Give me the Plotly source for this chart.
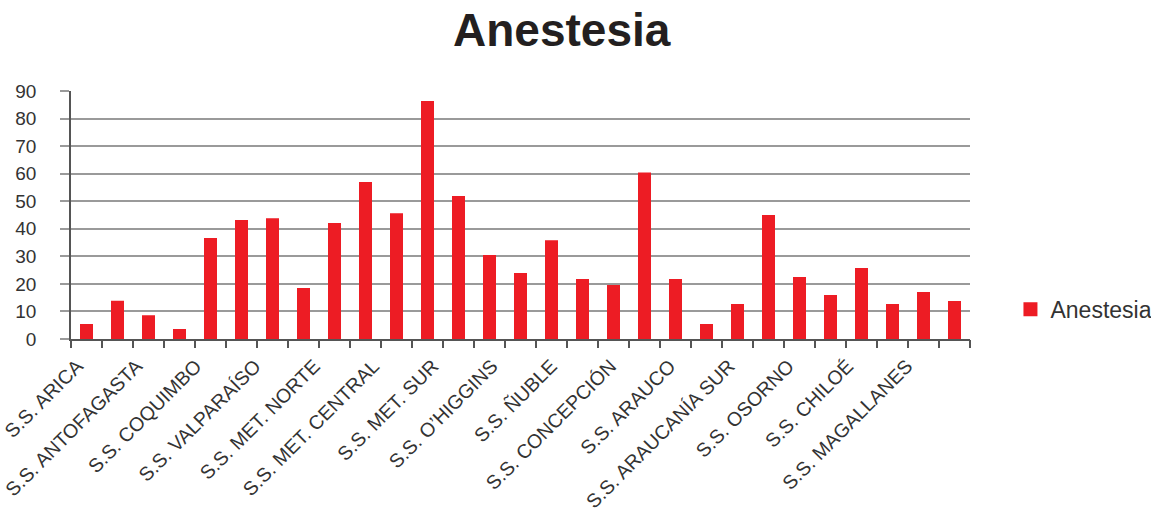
import plotly.graph_objects as go

# Servicios de Salud, in the order they are charted
categories = [
    "S.S. ARICA", "S.S. IQUIQUE", "S.S. ANTOFAGASTA", "S.S. ATACAMA",
    "S.S. COQUIMBO", "S.S. VIÑA DEL MAR QUILLOTA", "S.S. VALPARAÍSO",
    "S.S. ACONCAGUA", "S.S. MET. NORTE", "S.S. MET. OCCIDENTE",
    "S.S. MET. CENTRAL", "S.S. MET. ORIENTE", "S.S. MET. SUR",
    "S.S. MET. SUR ORIENTE", "S.S. O’HIGGINS", "S.S. MAULE", "S.S. ÑUBLE",
    "S.S. BIOBÍO", "S.S. CONCEPCIÓN", "S.S. TALCAHUANO", "S.S. ARAUCO",
    "S.S. ARAUCANÍA NORTE", "S.S. ARAUCANÍA SUR", "S.S. VALDIVIA",
    "S.S. OSORNO", "S.S. RELONCAVÍ", "S.S. CHILOÉ", "S.S. AYSÉN",
    "S.S. MAGALLANES",
]

anestesia = [
    5.1, 13.5, 8.3, 3.3, 36.3, 42.8, 43.5, 18.1, 41.7, 56.6,
    45.3, 86.0, 51.5, 30.1, 23.6, 35.5, 21.4, 19.2, 60.1, 21.4,
    5.1, 12.3, 44.6, 22.1, 15.6, 25.4, 12.3, 16.7, 13.4,
]

y_ticks = [0, 10, 20, 30, 40, 50, 60, 70, 80, 90]

RED = "#ED1C24"
FONT = "Liberation Sans, Arial, Helvetica, sans-serif"

n = len(categories)
# only every second service gets a printed label
label_idx = list(range(0, n, 2))
label_txt = [categories[i] for i in label_idx]
boundaries = [i - 0.5 for i in range(n + 1)]

fig = go.Figure()
fig.add_trace(go.Bar(
    x=categories, y=anestesia, name="Anestesia",
    marker=dict(color=RED, line=dict(width=2, color=RED)),
    showlegend=True,
))
# empty helper traces so the overlaid tick/label axes get rendered
fig.add_trace(go.Scatter(
    x=boundaries, y=[None] * len(boundaries), xaxis="x2", mode="markers",
    showlegend=False, hoverinfo="skip", marker=dict(opacity=0),
))
fig.add_trace(go.Scatter(
    x=label_idx, y=[None] * len(label_idx), xaxis="x3", mode="markers",
    showlegend=False, hoverinfo="skip", marker=dict(opacity=0),
))

fig.update_layout(
    width=1151, height=515,
    paper_bgcolor="white", plot_bgcolor="white",
    margin=dict(l=71, r=181, t=91, b=176, autoexpand=False),
    bargap=0.645,
    title=dict(
        text="<b>Anestesia</b>", x=0.488, xanchor="center",
        y=0.91, yanchor="bottom",
        font=dict(family=FONT, size=46, color="#231F20"),
    ),
    font=dict(family=FONT, color="#333333"),
    # category axis carrying the bars and the baseline
    xaxis=dict(
        type="category", categoryorder="array", categoryarray=categories,
        range=[-0.5, n - 0.5], automargin=False,
        showticklabels=False, ticks="", showgrid=False,
        showline=True, linecolor="#555555", linewidth=1.5,
        zeroline=False,
    ),
    # tick marks between categories
    xaxis2=dict(
        type="linear", overlaying="x", anchor="y", side="bottom",
        range=[-0.5, n - 0.5], automargin=False,
        tickmode="array", tickvals=boundaries,
        ticks="outside", ticklen=8, tickwidth=1.5, tickcolor="#555555",
        showticklabels=False, showgrid=False, showline=False, zeroline=False,
    ),
    # slanted service names, every second category
    xaxis3=dict(
        type="linear", overlaying="x", anchor="y", side="bottom",
        range=[-0.21, 30.13], automargin=False,
        tickmode="array", tickvals=label_idx, ticktext=label_txt,
        tickangle=-45, ticks="", ticklabelstandoff=11,
        ticklabeloverflow="allow",
        showgrid=False, showline=False, zeroline=False,
        tickfont=dict(family=FONT, size=19.5, color="#333333"),
    ),
    yaxis=dict(
        range=[0, 90], tickmode="array", tickvals=y_ticks, automargin=False,
        showgrid=True, gridcolor="#9a9a9a", gridwidth=1.5,
        ticks="outside", ticklen=9, tickwidth=1.5, tickcolor="#9a9a9a",
        ticklabelstandoff=20,
        showline=True, linecolor="#555555", linewidth=1.5,
        zeroline=False,
        tickfont=dict(family=FONT, size=19, color="#333333"),
    ),
    legend=dict(
        x=1.045, xanchor="left", y=0.12, yanchor="middle",
        font=dict(family=FONT, size=23, color="#333333"),
        bgcolor="rgba(0,0,0,0)",
    ),
)

fig.write_html("out.html")
